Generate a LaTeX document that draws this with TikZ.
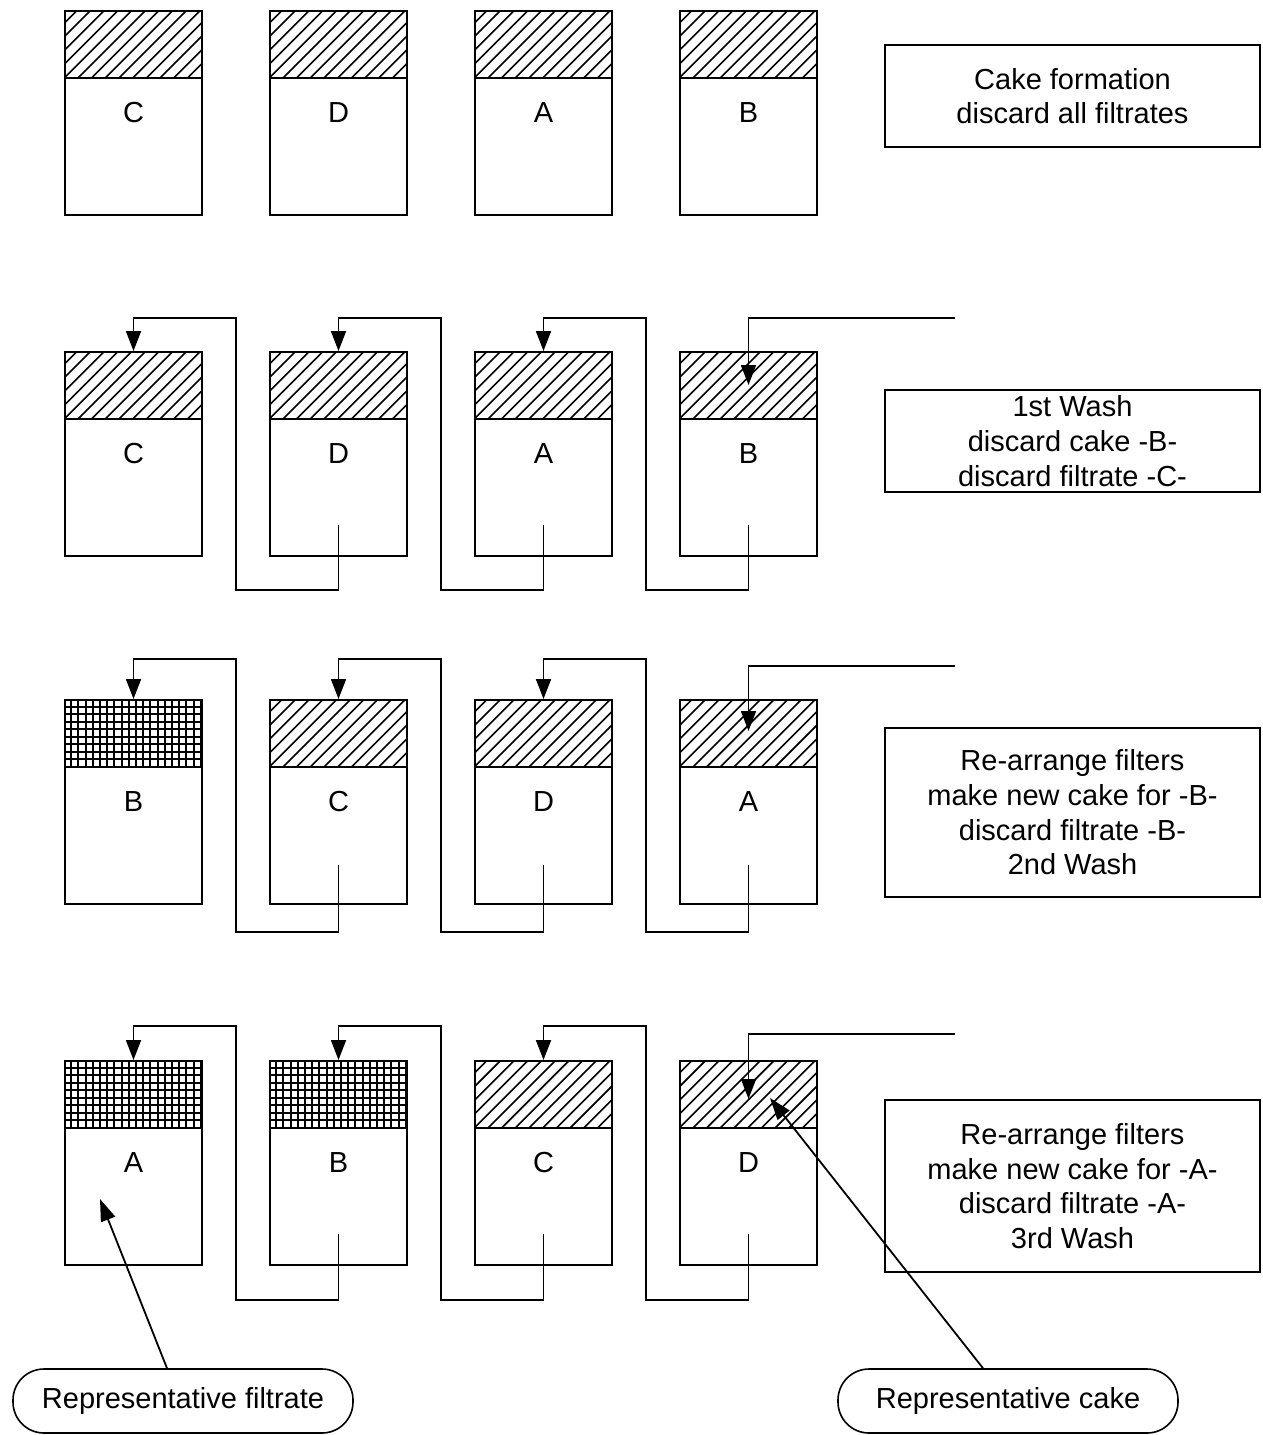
\documentclass[tikz,border=0pt]{standalone}
\usepackage{fontspec}
\setmainfont{Liberation Sans}
\usetikzlibrary{arrows.meta}
\tikzset{
  filter/.style={draw, line width=2pt, minimum width=137pt, minimum height=204pt, inner sep=0pt},
  infobox/.style={draw, line width=1.6pt, minimum width=375pt, inner sep=0pt, align=center},
  labelbox/.style={draw, line width=1.6pt, minimum width=340pt, minimum height=64pt, rounded corners=31pt, inner sep=0pt},
  flow/.style={line width=1.8pt, -{Triangle[length=20pt,width=15pt]}},
  pointer/.style={line width=1.8pt, -{Triangle[length=22pt,width=15pt]}},
  hatchline/.style={line width=1.6pt},
  gridline/.style={line width=2.1pt}
}
\newcommand{\cakehatch}[1]{%
  \begin{scope}[shift={(#1.north west)}]
    \clip (0,0) rectangle (137,68);
    \foreach \i in {-82,-68.3,...,150} \draw[hatchline] (\i,68) -- ++(68,-68);
  \end{scope}
  \draw[line width=2pt] ([yshift=-68pt]#1.north west) -- ([yshift=-68pt]#1.north east);}
\newcommand{\cakegrid}[1]{%
  \begin{scope}[shift={(#1.north west)}]
    \clip (0,0) rectangle (137,68);
    \foreach \i in {0,7.2,...,140} \draw[gridline] (\i,0) -- (\i,68);
    \foreach \j in {0,7.55,...,70} \draw[gridline] (0,\j) -- (137,\j);
  \end{scope}
  \draw[line width=2pt] ([yshift=-68pt]#1.north west) -- ([yshift=-68pt]#1.north east);}
\begin{document}
\begin{tikzpicture}[x=1pt,y=-1pt]
\useasboundingbox (0,0) rectangle (1262,1435);
\fontsize{29}{34.7}\selectfont

% Row 1
\node[filter] (f11) at (133.5,113) {C};
\node[filter] (f12) at (338.5,113) {D};
\node[filter] (f13) at (543.5,113) {A};
\node[filter] (f14) at (748.5,113) {B};
\foreach \n in {f11,f12,f13,f14} {\cakehatch{\n}}
\node[infobox, minimum height=102pt] (t1) at (1072.5,96) {Cake formation\\discard all filtrates};

% Row 2
\node[filter] (f21) at (133.5,454) {C};
\node[filter] (f22) at (338.5,454) {D};
\node[filter] (f23) at (543.5,454) {A};
\node[filter] (f24) at (748.5,454) {B};
\foreach \n in {f21,f22,f23,f24} {\cakehatch{\n}}
\node[infobox, minimum height=102pt] (t2) at (1072.5,441) {1st Wash\\discard cake -B-\\discard filtrate -C-};
\draw[flow] ([yshift=32pt]f22.south) -- (338.5,590) -- (236,590) -- (236,318) -- (133.5,318) -- (f21.north);
\draw[flow] ([yshift=32pt]f23.south) -- (543.5,590) -- (441,590) -- (441,318) -- (338.5,318) -- (f22.north);
\draw[flow] ([yshift=32pt]f24.south) -- (748.5,590) -- (646,590) -- (646,318) -- (543.5,318) -- (f23.north);
\coordinate (in2) at (955,318);
\coordinate (tip2) at (748.5,385);
\draw[flow] (in2) -- (748.5,318) -- (tip2);

% Row 3
\node[filter] (f31) at (133.5,802) {B};
\node[filter] (f32) at (338.5,802) {C};
\node[filter] (f33) at (543.5,802) {D};
\node[filter] (f34) at (748.5,802) {A};
\cakegrid{f31}
\foreach \n in {f32,f33,f34} {\cakehatch{\n}}
\node[infobox, minimum height=169pt] (t3) at (1072.5,812.5) {Re-arrange filters\\make new cake for -B-\\discard filtrate -B-\\2nd Wash};
\draw[flow] ([yshift=40pt]f32.south) -- (338.5,932) -- (236,932) -- (236,659) -- (133.5,659) -- (f31.north);
\draw[flow] ([yshift=40pt]f33.south) -- (543.5,932) -- (441,932) -- (441,659) -- (338.5,659) -- (f32.north);
\draw[flow] ([yshift=40pt]f34.south) -- (748.5,932) -- (646,932) -- (646,659) -- (543.5,659) -- (f33.north);
\coordinate (in3) at (955,666);
\coordinate (tip3) at (748.5,731);
\draw[flow] (in3) -- (748.5,666) -- (tip3);

% Row 4
\node[filter] (f41) at (133.5,1163) {A};
\node[filter] (f42) at (338.5,1163) {B};
\node[filter] (f43) at (543.5,1163) {C};
\node[filter] (f44) at (748.5,1163) {D};
\cakegrid{f41}
\cakegrid{f42}
\foreach \n in {f43,f44} {\cakehatch{\n}}
\node[infobox, minimum height=172pt] (t4) at (1072.5,1186) {Re-arrange filters\\make new cake for -A-\\discard filtrate -A-\\3rd Wash};
\draw[flow] ([yshift=32pt]f42.south) -- (338.5,1300) -- (236,1300) -- (236,1026) -- (133.5,1026) -- (f41.north);
\draw[flow] ([yshift=32pt]f43.south) -- (543.5,1300) -- (441,1300) -- (441,1026) -- (338.5,1026) -- (f42.north);
\draw[flow] ([yshift=32pt]f44.south) -- (748.5,1300) -- (646,1300) -- (646,1026) -- (543.5,1026) -- (f43.north);
\coordinate (in4) at (955,1034);
\coordinate (tip4) at (748.5,1099);
\draw[flow] (in4) -- (748.5,1034) -- (tip4);

% Labels
\node[labelbox] (rf) at (183,1401) {Representative filtrate};
\node[labelbox] (rc) at (1008,1401) {Representative cake};
\coordinate (rft) at (100,1199);
\coordinate (rct) at (770,1098);
\draw[pointer] ([xshift=-16pt]rf.north) -- (rft);
\draw[pointer] ([xshift=-25pt]rc.north) -- (rct);
\end{tikzpicture}
\end{document}
